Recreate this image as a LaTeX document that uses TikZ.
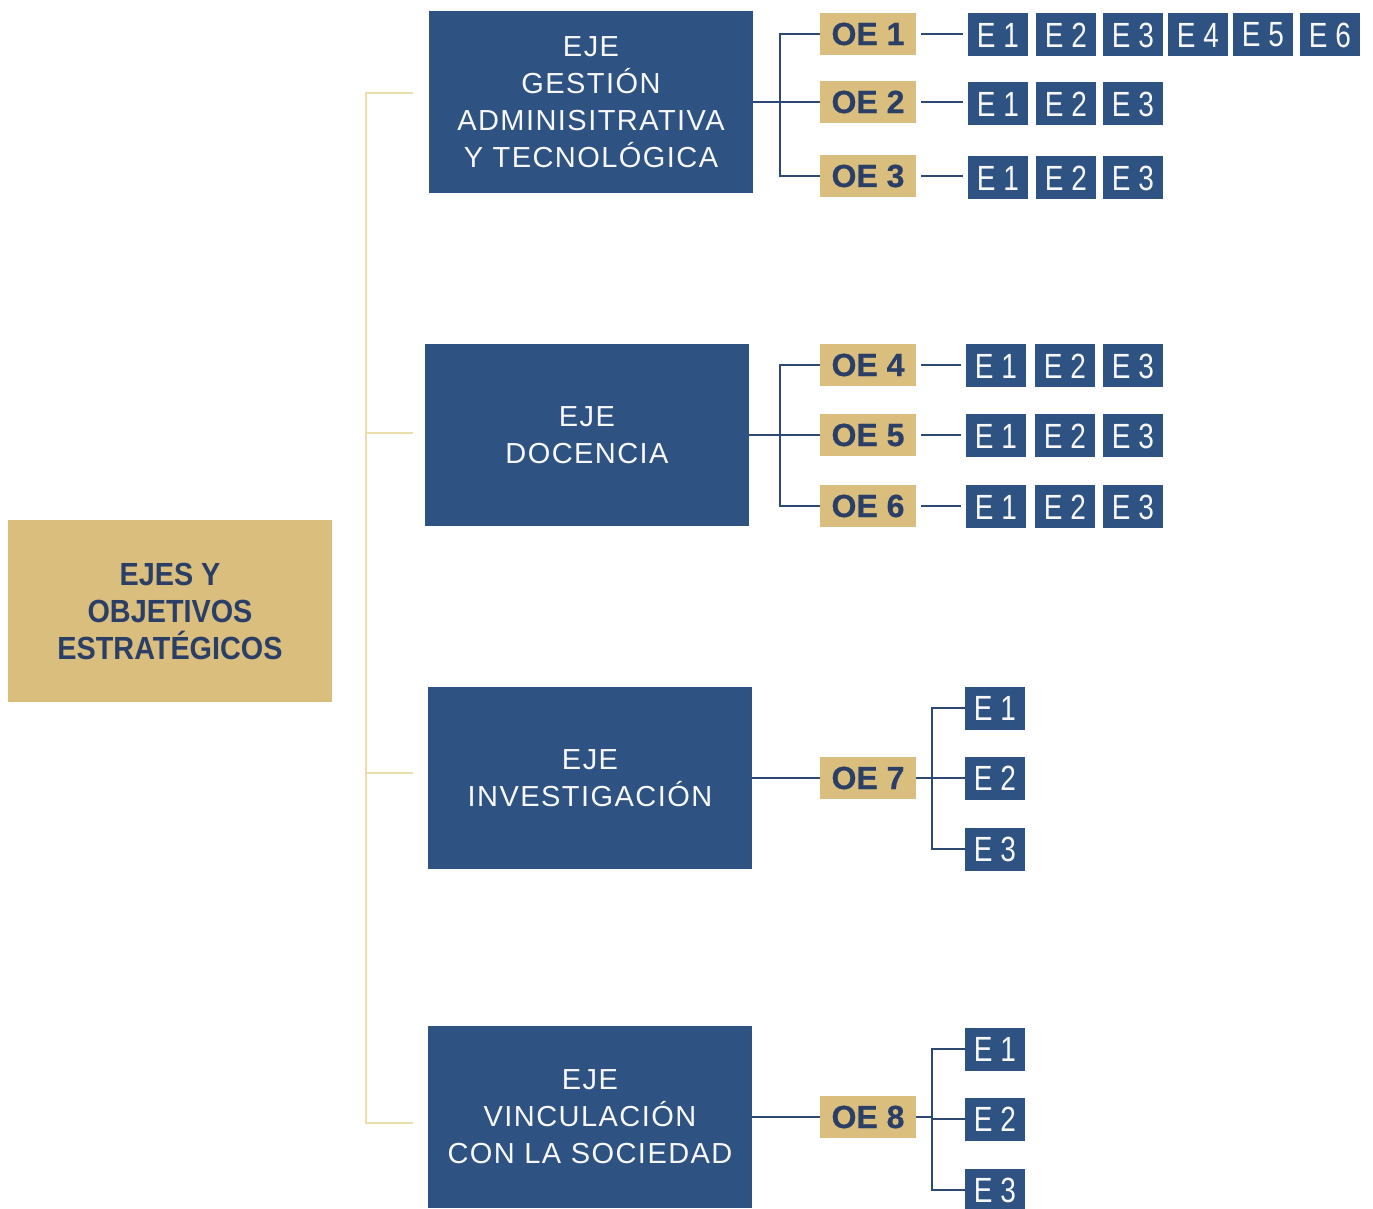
\documentclass[tikz,border=0pt]{standalone}
\usepackage{fontspec}
\setmainfont{Liberation Sans}
\newfontfamily\ejefont[LetterSpace=5]{Liberation Sans}
\newfontfamily\efont[FakeStretch=0.8]{Liberation Sans}
\newfontfamily\rootfont[FakeStretch=0.9]{Liberation Sans}
\newfontfamily\oefont[FakeBold=0.6]{Liberation Sans Bold}
\definecolor{boxblue}{RGB}{46,82,130}
\definecolor{tanbox}{RGB}{217,190,125}
\definecolor{navytext}{RGB}{43,62,102}
\definecolor{lineblue}{RGB}{44,72,115}
\definecolor{brackety}{RGB}{236,222,170}
\begin{document}
\begin{tikzpicture}[x=0.5pt,y=-0.5pt,
  rootbox/.style={fill=tanbox, text=navytext, minimum width=162pt, minimum height=91pt, inner sep=0pt, align=center, font=\rootfont\bfseries\fontsize{16}{18.5}\selectfont},
  ejebox/.style={fill=boxblue, text=white!94!gray, minimum width=162pt, minimum height=91pt, inner sep=0pt, align=center, font=\ejefont\fontsize{14.5}{18.5}\selectfont},
  oebox/.style={fill=tanbox, text=navytext, minimum width=48pt, minimum height=21pt, inner sep=0pt, font=\oefont\fontsize{16}{16}\selectfont},
  ebox/.style={fill=boxblue, text=white!94!gray, minimum width=30pt, minimum height=21.5pt, inner sep=0pt, font=\efont\fontsize{17.5}{17.5}\selectfont},
  conn/.style={draw=lineblue, line width=1pt},
  oeconn/.style={conn, shorten <=2.5pt, shorten >=2.5pt},
  brk/.style={draw=brackety, line width=1.3pt}]
\useasboundingbox (0,0) rectangle (1373,1209);
% root
\node[rootbox] (root) at (170,611) {EJES Y\\OBJETIVOS\\ESTRATÉGICOS};
% eje boxes
\node[ejebox] (eje1) at (591,102) {EJE\\GESTIÓN\\ADMINISITRATIVA\\Y TECNOLÓGICA};
\node[ejebox] (eje2) at (587,435) {EJE\\DOCENCIA};
\node[ejebox] (eje3) at (590,778) {EJE\\INVESTIGACIÓN};
\node[ejebox] (eje4) at (590,1117) {EJE\\VINCULACIÓN\\CON LA SOCIEDAD};
% left bracket
\coordinate (b1) at (413,93);
\coordinate (b2) at (413,433);
\coordinate (b3) at (413,773);
\coordinate (b4) at (413,1123);
\coordinate (bt) at (366,93);
\coordinate (bb) at (366,1123);
\draw[brk] (b1) -- (bt) -- (bb) -- (b4);
\draw[brk] (b2) -- (b2 -| bt);
\draw[brk] (b3) -- (b3 -| bt);
% OE boxes
\node[oebox] (oe1) at (868,34) {OE 1};
\node[oebox] (oe2) at (868,102) {OE 2};
\node[oebox] (oe3) at (868,176) {OE 3};
\node[oebox] (oe4) at (868,365) {OE 4};
\node[oebox] (oe5) at (868,435) {OE 5};
\node[oebox] (oe6) at (868,506) {OE 6};
\node[oebox] (oe7) at (868,778) {OE 7};
\node[oebox] (oe8) at (868,1117) {OE 8};
% E rows
\foreach \x [count=\i] in {998,1066,1133,1198,1263,1330}
  \node[ebox] (ea\i) at (\x,35) {E \i};
\foreach \x [count=\i] in {998,1066,1133}
  \node[ebox] (eb\i) at (\x,104) {E \i};
\foreach \x [count=\i] in {998,1066,1133}
  \node[ebox] (ec\i) at (\x,178) {E \i};
\foreach \x [count=\i] in {996,1065,1133}
  \node[ebox] (ed\i) at (\x,366) {E \i};
\foreach \x [count=\i] in {996,1065,1133}
  \node[ebox] (ee\i) at (\x,436) {E \i};
\foreach \x [count=\i] in {996,1065,1133}
  \node[ebox] (ef\i) at (\x,507) {E \i};
\foreach \y [count=\i] in {708,778,849}
  \node[ebox] (eg\i) at (995,\y) {E \i};
\foreach \y [count=\i] in {1049,1119,1190}
  \node[ebox] (eh\i) at (995,\y) {E \i};
% connectors eje1
\coordinate (j1) at (780,102);
\draw[conn] (eje1.east) -- (j1);
\draw[conn] (oe1.west) -| (j1);
\draw[conn] (oe2.west) -- (j1);
\draw[conn] (oe3.west) -| (j1);
% eje2
\coordinate (j2) at (780,435);
\draw[conn] (eje2.east) -- (j2);
\draw[conn] (oe4.west) -| (j2);
\draw[conn] (oe5.west) -- (j2);
\draw[conn] (oe6.west) -| (j2);
% OE to E rows
\draw[oeconn] (oe1.east) -- (ea1.west |- oe1.east);
\draw[oeconn] (oe2.east) -- (eb1.west |- oe2.east);
\draw[oeconn] (oe3.east) -- (ec1.west |- oe3.east);
\draw[oeconn] (oe4.east) -- (ed1.west |- oe4.east);
\draw[oeconn] (oe5.east) -- (ee1.west |- oe5.east);
\draw[oeconn] (oe6.east) -- (ef1.west |- oe6.east);
% eje3
\draw[conn] (eje3.east) -- (oe7.west);
\coordinate (j7) at (932,778);
\draw[conn] (oe7.east) -- (j7);
\draw[conn] (eg1.west) -| (j7);
\draw[conn] (eg2.west) -- (j7);
\draw[conn] (eg3.west) -| (j7);
% eje4
\draw[conn] (eje4.east) -- (oe8.west);
\coordinate (j8) at (932,1119);
\draw[conn] (oe8.east) -- (oe8.east -| j8);
\draw[conn] (eh1.west) -| (j8);
\draw[conn] (eh2.west) -- (j8);
\draw[conn] (eh3.west) -| (j8);
\end{tikzpicture}
\end{document}
